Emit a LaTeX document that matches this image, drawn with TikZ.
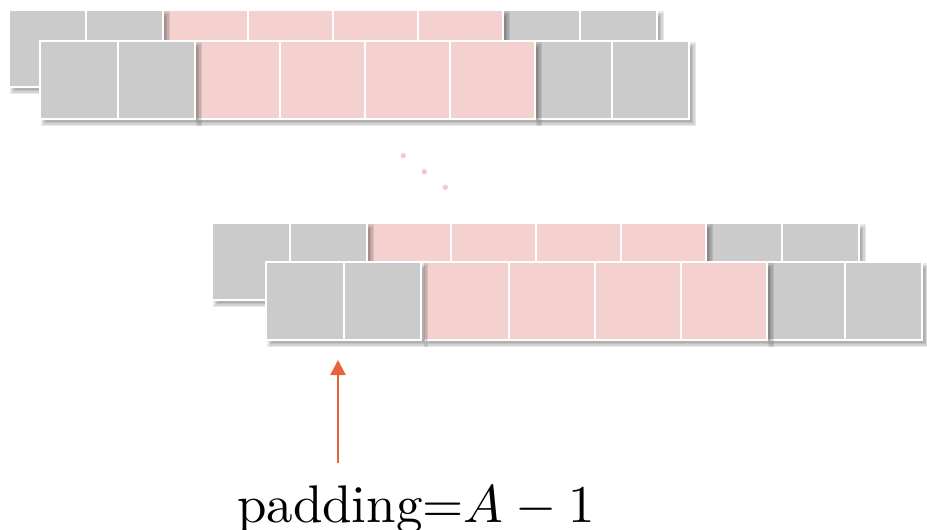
\documentclass[tikz,border=0pt]{standalone}
\usetikzlibrary{arrows.meta}
\definecolor{cellgrey}{HTML}{CBCBCB}
\definecolor{cellpink}{HTML}{F4D1CE}
\definecolor{dotpink}{HTML}{F5CAC6}
\definecolor{arroworange}{HTML}{E8623A}
\tikzset{
  cell/.style={draw=white, line width=2pt},
  greycell/.style={cell, fill=cellgrey},
  pinkcell/.style={cell, fill=cellpink},
  shadowlayer/.style={fill=black, opacity=0.09},
  arr/.style={draw=arroworange, line width=2.6pt, -{Triangle[length=15pt,width=15pt]}},
  lbl/.style={font=\normalsize, scale=5.3, transform shape, anchor=base, inner sep=0pt}
}
\newcommand\blkshadow[4]{%
  \foreach \d in {-3,-1.5,0,1.5,3}{%
    \fill[shadowlayer] ({#1+4-\d},{#2+4-\d}) rectangle ({#3+4+\d},{#4+4+\d});}}
\newcommand\cellblock[6]{%
  \blkshadow{#1}{#2}{#1+#3*#4}{#5}%
  \foreach \i in {1,...,#4}{%
    \draw[#6] ({#1+(\i-1)*#3},#2) rectangle ({#1+\i*#3},#5);}}
\begin{document}
\begin{tikzpicture}[x=1pt,y=-1pt]
\useasboundingbox (0,0) rectangle (927,530);
% top back row
\cellblock{503}{10}{77}{2}{87}{greycell}
\cellblock{163}{10}{85}{4}{87}{pinkcell}
\cellblock{9}{10}{77}{2}{87}{greycell}
% top front row
\cellblock{535}{41}{77}{2}{119}{greycell}
\cellblock{195}{41}{85}{4}{119}{pinkcell}
\cellblock{40}{41}{77.5}{2}{119}{greycell}
% dots
\fill[dotpink] (403.3,155.7) circle (2.7);
\fill[dotpink] (424.3,171.7) circle (2.7);
\fill[dotpink] (445.3,187.3) circle (2.7);
% bottom back row
\cellblock{705}{223}{77}{2}{300}{greycell}
\cellblock{366}{223}{85}{4}{300}{pinkcell}
\cellblock{212}{223}{77.5}{2}{300}{greycell}
% bottom front row
\cellblock{767}{262}{77.5}{2}{340}{greycell}
\cellblock{423}{262}{86}{4}{340}{pinkcell}
\cellblock{266}{262}{77.5}{2}{340}{greycell}
% arrow and label
\node[lbl] (label) at (416,522) {padding=$A-1$};
\coordinate (arrowbot) at (338,463);
\coordinate (arrowtop) at (338,360);
\draw[arr] (arrowbot) -- (arrowtop);
\end{tikzpicture}
\end{document}
